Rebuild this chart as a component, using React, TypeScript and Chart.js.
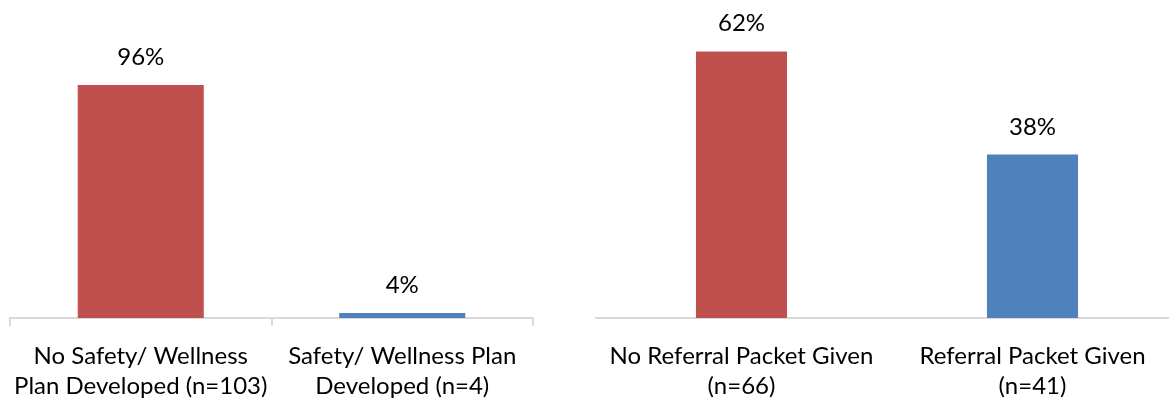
import React, { useEffect, useRef } from "react";
import { Chart, registerables } from "chart.js";

Chart.register(...registerables);

const leftCategories = [
  ["No Safety/ Wellness", "Plan Developed (n=103)"],
  ["Safety/ Wellness Plan", "Developed (n=4)"],
];
const leftValues = [96, 4];

const rightCategories = [
  ["No Referral Packet Given", "(n=66)"],
  ["Referral Packet Given", "(n=41)"],
];
const rightValues = [62, 38];

const barColors = ["#C0504D", "#4F81BD"];
const FONT = "Lato";

const valueLabels = {
  id: "valueLabels",
  afterDatasetsDraw(chart: any) {
    const ctx = chart.ctx;
    const meta = chart.getDatasetMeta(0);
    const data = chart.data.datasets[0].data as number[];
    ctx.save();
    ctx.font = `24px ${FONT}`;
    ctx.fillStyle = "#000";
    ctx.textAlign = "center";
    ctx.textBaseline = "alphabetic";
    meta.data.forEach((bar: any, i: number) => {
      ctx.fillText(`${data[i]}%`, bar.x, bar.y - 20);
    });
    ctx.restore();
  },
};

function BarChart(props: {
  labels: string[][];
  values: number[];
  yMin: number;
  yMax: number;
  barPct: number;
  pad: { left: number; right: number; top: number };
  ticks: boolean;
  width: number;
  left: number;
}) {
  const ref = useRef<HTMLCanvasElement>(null);
  useEffect(() => {
    const chart = new Chart(ref.current!, {
      type: "bar",
      data: {
        labels: props.labels,
        datasets: [
          {
            data: props.values,
            backgroundColor: barColors,
            barPercentage: props.barPct,
            categoryPercentage: 1,
          },
        ],
      },
      options: {
        animation: false,
        responsive: false,
        maintainAspectRatio: false,
        layout: {
          padding: { left: props.pad.left, right: props.pad.right, top: props.pad.top, bottom: 0 },
        },
        plugins: { legend: { display: false }, tooltip: { enabled: false } },
        scales: {
          y: { display: false, min: props.yMin, max: props.yMax },
          x: {
            afterFit: (axis: any) => {
              axis.height = 80;
              axis.paddingLeft = 0;
              axis.paddingRight = 0;
            },
            grid: {
              display: true,
              drawOnChartArea: false,
              drawTicks: props.ticks,
              tickLength: 8,
              color: "#D9D9D9",
              lineWidth: 2,
              offset: true,
            },
            border: { display: true, color: "#D9D9D9", width: 2 },
            ticks: {
              color: "#000",
              font: { family: FONT, size: 24, lineHeight: 1.25 },
              padding: props.ticks ? 15 : 23,
              maxRotation: 0,
              autoSkip: false,
            },
          },
        },
      },
      plugins: [valueLabels],
    });
    return () => chart.destroy();
  }, []);
  return (
    <canvas
      ref={ref}
      width={props.width}
      height={398}
      style={{ position: "absolute", left: props.left, top: 0, width: props.width, height: 398 }}
    />
  );
}

export default function App() {
  return (
    <div
      style={{
        position: "fixed",
        left: 0,
        top: 0,
        width: 1169,
        height: 398,
        overflow: "hidden",
        background: "#fff",
      }}
    >
      <BarChart
        labels={leftCategories}
        values={leftValues}
        yMin={2}
        yMax={100}
        barPct={0.482}
        pad={{ left: 10, right: 12, top: 75 }}
        ticks={true}
        width={545}
        left={0}
      />
      <BarChart
        labels={rightCategories}
        values={rightValues}
        yMin={0}
        yMax={70}
        barPct={0.313}
        pad={{ left: 16, right: 2, top: 17 }}
        ticks={false}
        width={600}
        left={580}
      />
    </div>
  );
}
